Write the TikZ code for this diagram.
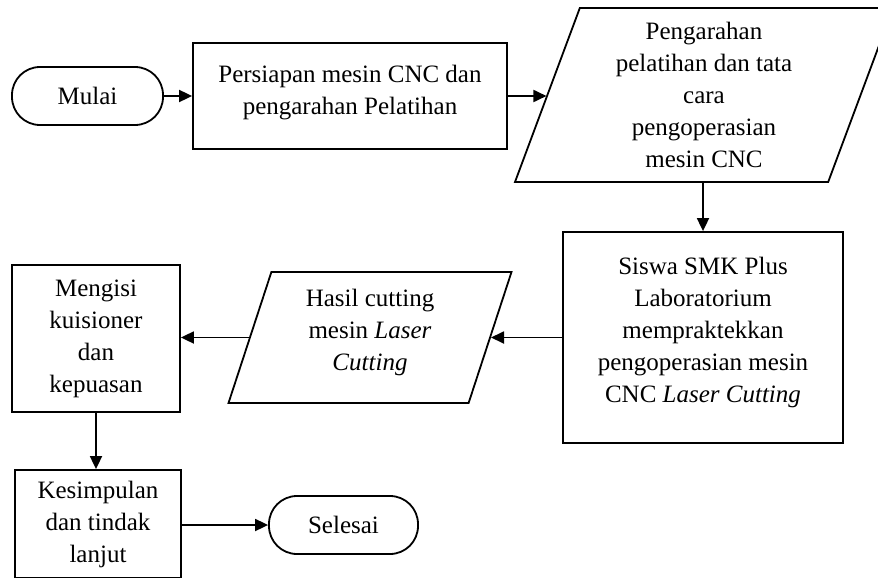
\documentclass[tikz,border=0pt]{standalone}
\usepackage{fontspec}
\setmainfont{Liberation Serif}
\usetikzlibrary{shapes.geometric,arrows.meta}
\begin{document}
\begin{tikzpicture}[x=1pt,y=-1pt,
  every node/.style={font=\fontsize{25}{32}\selectfont, align=center, inner sep=0pt},
  boxnode/.style={draw, line width=1.8pt, rectangle},
  termnode/.style={draw, line width=1.8pt, rectangle, rounded corners=28pt, minimum height=58pt},
  ionode/.style={draw, line width=1.8pt, trapezium, trapezium left angle=66, trapezium right angle=114,
    trapezium stretches body=true},
  arr/.style={line width=1.8pt, -{Triangle[length=13pt,width=12pt]}}]
\useasboundingbox (0,0) rectangle (878,578);

\node[termnode, minimum width=151pt] (mulai) at (87.5,96) {Mulai};
\node[boxnode, minimum width=314pt, minimum height=106pt] (box1) at (350,96)
  {Persiapan mesin CNC dan\\pengarahan Pelatihan\\[-20pt]\mbox{}};
\node[ionode, minimum width=378pt, minimum height=174pt] (para1) at (704,95)
  {Pengarahan\\pelatihan dan tata\\cara\\pengoperasian\\mesin CNC};
\node[boxnode, minimum width=280pt, minimum height=211pt] (siswa) at (703,337.5)
  {Siswa SMK Plus\\Laboratorium\\mempraktekkan\\pengoperasian mesin\\CNC \textit{Laser Cutting}\\[-17pt]\mbox{}};
\node[ionode, minimum width=283pt, minimum height=131pt] (hasil) at (370,337.5)
  {Hasil cutting\\mesin \textit{Laser}\\\textit{Cutting}\\[-17pt]\mbox{}};
\node[boxnode, minimum width=168pt, minimum height=147pt] (mengisi) at (96,338.5)
  {Mengisi\\kuisioner\\dan\\kepuasan};
\node[boxnode, minimum width=166pt, minimum height=108pt] (kesimpulan) at (98,524)
  {Kesimpulan\\dan tindak\\lanjut};
\node[termnode, minimum width=149pt] (selesai) at (343.5,525) {Selesai};

\draw[arr] (mulai) -- (box1);
\draw[arr] (box1.east) -- (box1.east -| para1.west);
\draw[arr] (siswa.north |- para1.south) -- (siswa.north);
\draw[arr] (siswa.west) -- (hasil.east);
\draw[arr] (hasil.west) -- (mengisi.east |- hasil.west);
\draw[arr] (mengisi.south) -- (mengisi.south |- kesimpulan.north);
\draw[arr] (kesimpulan.east |- selesai.west) -- (selesai.west);
\end{tikzpicture}
\end{document}
